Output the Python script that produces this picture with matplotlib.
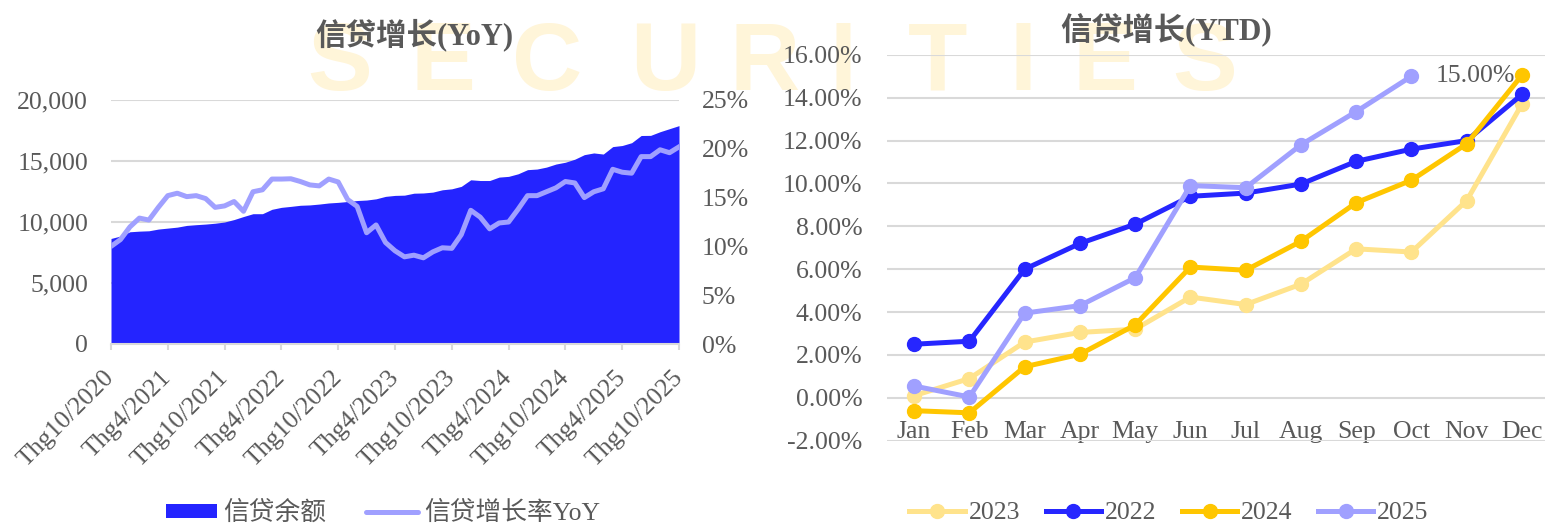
import matplotlib
matplotlib.use("Agg")
import matplotlib.pyplot as plt
import matplotlib.transforms as mtransforms
from matplotlib.patches import Patch
from matplotlib.lines import Line2D
import numpy as np

plt.rcParams['font.family'] = ['Liberation Serif', 'Noto Sans CJK SC', 'DejaVu Sans']

# ---------------- data ----------------
credit_balance = [8650, 8850, 9200, 9250, 9280, 9420, 9500, 9580, 9720, 9780, 9830, 9900,
                  10000, 10200, 10450, 10680, 10680, 11040, 11200, 11280, 11370, 11400, 11470, 11560,
                  11610, 11680, 11760, 11800, 11900, 12100, 12180, 12200, 12360, 12380, 12450, 12640,
                  12720, 12920, 13460, 13400, 13400, 13680, 13740, 13950, 14290, 14340, 14500, 14750,
                  14900, 15150, 15520, 15660, 15570, 16180, 16270, 16500, 17090, 17100, 17400, 17650,
                  17900]
credit_yoy = [10.0, 10.7, 12.0, 12.9, 12.7, 14.0, 15.2, 15.45, 15.1, 15.2, 14.9, 14.0,
              14.15, 14.6, 13.6, 15.6, 15.8, 16.9, 16.9, 16.93, 16.65, 16.3, 16.2, 16.9,
              16.6, 14.8, 14.1, 11.4, 12.2, 10.4, 9.55, 8.93, 9.1, 8.83, 9.44, 9.86,
              9.8, 11.2, 13.7, 13.0, 11.8, 12.4, 12.5, 13.8, 15.2, 15.2, 15.6, 16.0,
              16.65, 16.5, 15.0, 15.6, 15.9, 17.9, 17.6, 17.5, 19.2, 19.2, 19.9, 19.6,
              20.2]
left_tick_labels = ["Thg10/2020", "Thg4/2021", "Thg10/2021", "Thg4/2022", "Thg10/2022",
                    "Thg4/2023", "Thg10/2023", "Thg4/2024", "Thg10/2024", "Thg4/2025",
                    "Thg10/2025"]

months = ["Jan", "Feb", "Mar", "Apr", "May", "Jun", "Jul", "Aug", "Sep", "Oct", "Nov", "Dec"]
ytd_2023 = [0.1, 0.9, 2.6, 3.05, 3.2, 4.7, 4.35, 5.3, 6.95, 6.8, 9.2, 13.7]
ytd_2022 = [2.5, 2.64, 6.0, 7.2, 8.1, 9.4, 9.55, 9.97, 11.03, 11.6, 12.0, 14.15]
ytd_2024 = [-0.6, -0.7, 1.45, 2.03, 3.4, 6.1, 5.95, 7.3, 9.1, 10.15, 11.85, 15.05]
ytd_2025 = [0.55, 0.04, 3.95, 4.3, 5.6, 9.9, 9.8, 11.8, 13.35, 15.0]

# ---------------- style ----------------
TXT = '#595959'
GRID = '#D9D9D9'
C_AREA = '#2424FF'
C_YOY = '#A0A0FF'
C_2022 = '#2626FF'
C_2023 = '#FFE38C'
C_2024 = '#FFC600'
C_2025 = '#A0A0FF'
FS = 18.5

W, H = 1545, 524
fig = plt.figure(figsize=(W / 100, H / 100), dpi=100)

# watermark
wm_letters = list("SECURITIES")
wm_x = [340, 443, 547, 665, 765, 843, 938, 1023, 1105, 1205]
for ch, xc in zip(wm_letters, wm_x):
    fig.text(xc / W, 1 - 90 / H, ch, ha='center', va='baseline', fontsize=70,
             family='Liberation Sans', weight='bold', color='#FFF5D9', zorder=-5)

# ---------------- left chart ----------------
L, R, B, T = 111, 679, 344, 100
ax1 = fig.add_axes([L / W, (H - B) / H, (R - L) / W, (B - T) / H])
ax1.set_facecolor('none')
x = np.arange(len(credit_balance))
ax1.fill_between(x, 0, credit_balance, color=C_AREA, linewidth=0, zorder=2)
ax1.set_xlim(0, len(credit_balance) - 1)
ax1.set_ylim(0, 20000)
ax1.set_yticks([0, 5000, 10000, 15000, 20000])
ax1.set_yticklabels(["0", "5,000", "10,000", "15,000", "20,000"])
ax1.grid(axis='y', color=GRID, linewidth=1.5, zorder=0)
ax1.set_axisbelow(True)
for s in ['left', 'right', 'top']:
    ax1.spines[s].set_visible(False)
ax1.spines['bottom'].set_color(GRID)
ax1.spines['bottom'].set_linewidth(1.5)
ax1.spines['bottom'].set_zorder(3)
ax1.tick_params(axis='y', length=0, pad=16.5, labelsize=FS, labelcolor=TXT)
xt = np.arange(0, len(credit_balance), 6)
ax1.set_xticks(xt)
ax1.set_xticklabels(left_tick_labels)
ax1.tick_params(axis='x', length=4, width=1.5, color=GRID, pad=12, labelsize=FS, labelcolor=TXT)
off = mtransforms.ScaledTranslation(8 / 100, 0, fig.dpi_scale_trans)
for lab in ax1.get_xticklabels():
    lab.set_rotation(45)
    lab.set_ha('right')
    lab.set_va('top')
    lab.set_transform(lab.get_transform() + off)

ax1b = ax1.twinx()
ax1b.set_facecolor('none')
ax1b.plot(x, credit_yoy, color=C_YOY, linewidth=3.6, solid_joinstyle='round', zorder=3)
ax1b.set_ylim(0, 25)
ax1b.set_yticks([0, 5, 10, 15, 20, 25])
ax1b.set_yticklabels(["0%", "5%", "10%", "15%", "20%", "25%"])
for s in ['left', 'right', 'top', 'bottom']:
    ax1b.spines[s].set_visible(False)
ax1b.tick_params(axis='y', length=0, pad=16.3, labelsize=FS, labelcolor=TXT)

fig.text(414 / W, 1 - 35 / H, "信贷增长(YoY)", ha='center', va='center', fontsize=22,
         color=TXT, weight='bold')

h1 = Patch(facecolor=C_AREA, edgecolor='none')
h2 = Line2D([], [], color=C_YOY, linewidth=3.6, solid_capstyle='round')
fig.legend([h1, h2], ["信贷余额", "信贷增长率YoY"], loc='center', bbox_to_anchor=(383 / W, 1 - 513 / H),
           ncol=2, frameon=False, fontsize=FS, labelcolor=TXT, handlelength=2.0,
           handleheight=0.5, handletextpad=0.25, columnspacing=1.55, borderpad=0)

# ---------------- right chart ----------------
L2, R2, B2, T2 = 886.5, 1549.6, 440.7, 54.8
ax2 = fig.add_axes([L2 / W, (H - B2) / H, (R2 - L2) / W, (B2 - T2) / H])
ax2.set_facecolor('none')
xm = np.arange(len(months))
series = [("2023", ytd_2023, C_2023), ("2022", ytd_2022, C_2022),
          ("2024", ytd_2024, C_2024), ("2025", ytd_2025, C_2025)]
handles = []
for name, vals, col in series:
    ln, = ax2.plot(xm[:len(vals)], vals, color=col, linewidth=3.6, marker='o', markersize=10,
                   solid_joinstyle='round', zorder=3, clip_on=False)
    handles.append(ln)
ax2.set_xlim(-0.5, len(months) - 0.5)
ax2.set_ylim(-2, 16)
yt = np.arange(-2, 17, 2)
ax2.set_yticks(yt)
ax2.set_yticklabels([f"{v:.2f}%" for v in yt])
ax2.grid(axis='y', color=GRID, linewidth=1.5, zorder=0)
ax2.set_axisbelow(True)
for s in ['left', 'right', 'top']:
    ax2.spines[s].set_visible(False)
ax2.spines['bottom'].set_position(('data', 0))
ax2.spines['bottom'].set_visible(False)
ax2.set_xticks(xm)
ax2.set_xticklabels(months)
ax2.tick_params(axis='x', length=0, pad=17, labelsize=FS, labelcolor=TXT)
ax2.tick_params(axis='y', length=0, pad=17.5, labelsize=FS, labelcolor=TXT)

ax2.annotate(f"{ytd_2025[-1]:.2f}%", xy=(len(ytd_2025) - 1, ytd_2025[-1]), xytext=(24, 0),
             textcoords='offset pixels', ha='left', va='center', fontsize=FS, color=TXT)

fig.text(1166 / W, 1 - 30 / H, "信贷增长(YTD)", ha='center', va='center', fontsize=22.5,
         color=TXT, weight='bold')

fig.legend(handles, [s[0] for s in series], loc='center', bbox_to_anchor=(1169 / W, 1 - 513 / H),
           ncol=4, frameon=False, fontsize=FS, labelcolor=TXT, handlelength=2.15,
           handletextpad=0.15, columnspacing=1.0, borderpad=0)

fig.savefig("out.png", dpi=100)
